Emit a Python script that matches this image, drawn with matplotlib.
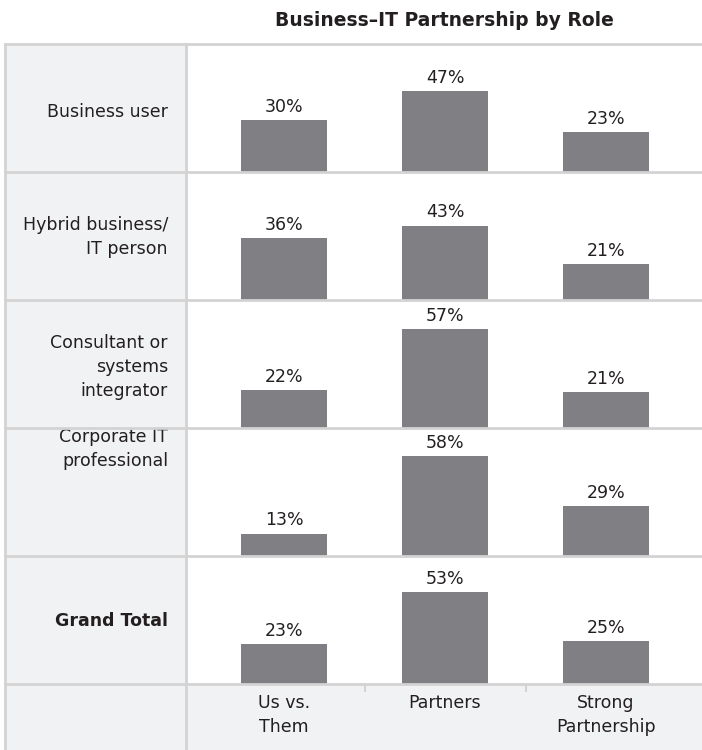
import matplotlib
matplotlib.use("Agg")
import matplotlib.pyplot as plt
from matplotlib.patches import Rectangle
from matplotlib.lines import Line2D

# ---- data ----
title = "Business\u2013IT Partnership by Role"
roles = ["Business user", "Hybrid business/\nIT person", "Consultant or\nsystems\nintegrator",
         "Corporate IT\nprofessional", "Grand Total"]
categories = ["Us vs.\nThem", "Partners", "Strong\nPartnership"]
us_vs_them = [30, 36, 22, 13, 23]
partners = [47, 43, 57, 58, 53]
strong_partnership = [23, 21, 21, 29, 25]

# ---- style ----
W, H = 702, 750
BAR = "#808084"
GRID = "#d3d3d3"
SHADE = "#f1f2f4"
TEXT = "#231f20"
FS = 12.5
LS = 1.42

fig = plt.figure(figsize=(W / 100, H / 100), dpi=100)
fig.patch.set_facecolor("white")


def fx(px):
    return px / W


def fy(py):
    return 1 - py / H


left_edge, col_split, right_edge = 5, 186, 702
top = 44
row_h = 128
n_rows = len(roles)
bottom_row_top = top + n_rows * row_h
# vertical offsets (px) of row labels relative to row centre
label_shift = [4, 1, 3, -43, 1]

# shaded label column and axis-label strip
fig.add_artist(Rectangle((fx(left_edge), fy(H)), fx(col_split - left_edge), (H - top) / H,
                         facecolor=SHADE, edgecolor="none", transform=fig.transFigure, zorder=0))
fig.add_artist(Rectangle((fx(col_split), fy(H)), fx(right_edge - col_split), (H - bottom_row_top) / H,
                         facecolor=SHADE, edgecolor="none", transform=fig.transFigure, zorder=0))

xlim = (-0.609, 2.596)
series = list(zip(us_vs_them, partners, strong_partnership))

for i, role in enumerate(roles):
    r_top = top + i * row_h
    r_bot = r_top + row_h
    ax = fig.add_axes([fx(col_split), fy(r_bot), fx(right_edge - col_split), row_h / H])
    ax.set_xlim(*xlim)
    ax.set_ylim(0, 74)
    ax.axis("off")
    vals = series[i]
    bars = ax.bar(range(len(categories)), vals, width=0.534, color=BAR, zorder=2)
    ax.bar_label(bars, labels=[f"{v}%" for v in vals], padding=3, fontsize=FS, color=TEXT)
    weight = "bold" if role == "Grand Total" else "normal"
    fig.text(fx(168), fy((r_top + r_bot) / 2 + label_shift[i]), role, ha="right", va="center",
             fontsize=FS, color=TEXT, fontweight=weight, linespacing=LS)

# category labels in bottom strip
axb = fig.add_axes([fx(col_split), fy(H), fx(right_edge - col_split), (H - bottom_row_top) / H])
axb.set_xlim(*xlim)
axb.set_ylim(0, 1)
axb.axis("off")
for j, c in enumerate(categories):
    axb.text(j, 1 - 10 / (H - bottom_row_top), c, ha="center", va="top", fontsize=FS,
             color=TEXT, linespacing=LS)
for j in range(len(categories) - 1):
    axb.plot([j + 0.5, j + 0.5], [1, 1 - 8 / (H - bottom_row_top)], color=GRID, lw=1.5,
             solid_capstyle="butt")

# grid lines
for k in range(n_rows + 1):
    y = top + k * row_h
    fig.add_artist(Line2D([fx(left_edge), fx(right_edge)], [fy(y), fy(y)], color=GRID, lw=2,
                          transform=fig.transFigure, zorder=5))
for x in (left_edge, col_split):
    fig.add_artist(Line2D([fx(x), fx(x)], [fy(top), fy(H)], color=GRID, lw=2,
                          transform=fig.transFigure, zorder=5))

fig.text(fx((col_split + right_edge) / 2), fy(21), title, ha="center", va="center",
         fontsize=13.5, fontweight="bold", color=TEXT)

fig.savefig("out.png", dpi=100, facecolor="white")
